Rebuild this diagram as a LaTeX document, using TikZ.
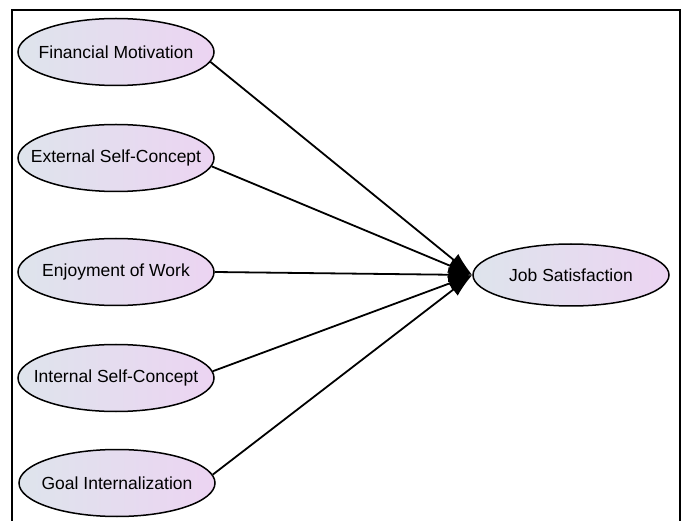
\documentclass[tikz,border=0pt]{standalone}
\usepackage{fontspec}
\setmainfont{Liberation Sans}
\usetikzlibrary{shapes.geometric,arrows.meta}
\definecolor{gl}{RGB}{222,228,236}
\definecolor{gr}{RGB}{236,212,242}
\begin{document}
\begin{tikzpicture}[x=1pt,y=-1pt,
  latent/.style={ellipse,draw=black,line width=1.5pt,minimum width=196pt,minimum height=67pt,inner sep=0pt,
    left color=gl,right color=gr,
    font=\fontsize{17.5}{20}\selectfont},
  path/.style={line width=1.8pt,-{Latex[length=24pt,width=15pt]}}]
\useasboundingbox (0,0) rectangle (683,521);
\draw[line width=2pt] (12,521) -- (12,10) -- (680,10) -- (680,521);
\node[latent] (fm) at (116,52) {\makebox[0pt]{Financial Motivation}};
\node[latent] (esc) at (116,158) {\makebox[0pt]{External Self-Concept}};
\node[latent] (ew) at (116,272) {\makebox[0pt]{Enjoyment of Work}};
\node[latent] (isc) at (116,378) {\makebox[0pt]{Internal Self-Concept}};
\node[latent] (gi) at (117,483) {\makebox[0pt]{Goal Internalization}};
\node[latent,minimum height=62pt] (js) at (571,275) {\makebox[0pt]{Job Satisfaction}};
\draw[path] (fm.-6) -- (js.west);
\draw[path] (esc.-5) -- (js.west);
\draw[path] (ew.east) -- (js.west);
\draw[path] (isc.4) -- (js.west);
\draw[path] (gi.5) -- (js.west);
\end{tikzpicture}
\end{document}
